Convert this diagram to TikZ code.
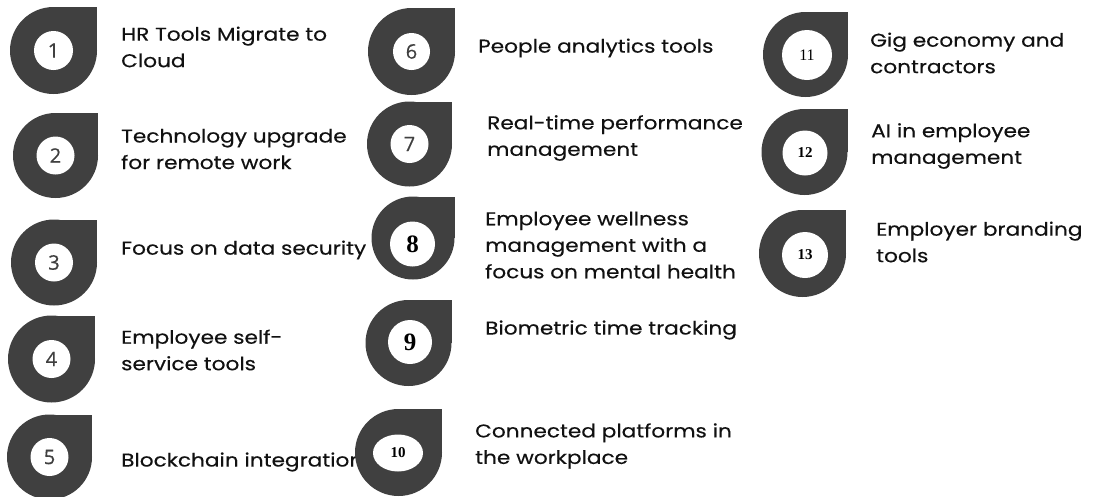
\documentclass[tikz,border=0pt]{standalone}
\usepackage{fontspec}
\usetikzlibrary{shapes.geometric}
\setmainfont{Poppins}[FakeStretch=1.17,FakeBold=0.35]
\newfontfamily\numserif{Liberation Serif}
\newfontfamily\numsans{Open Sans}[FakeBold=0.4]
\definecolor{dropgray}{HTML}{404040}
\definecolor{labelink}{HTML}{111111}
\tikzset{
  dropfill/.style={fill=dropgray},
  hole/.style={circle, fill=white, inner sep=0pt, text=dropgray},
  label/.style={anchor=west, align=left, text=labelink, font=\fontsize{18.5}{26.5}\selectfont, inner sep=0pt},
  sansnum/.style={font=\numsans\fontsize{20}{20}\selectfont, text=dropgray},
  bignum/.style={font=\numserif\bfseries\fontsize{25}{25}\selectfont, text=black},
  smallnum/.style={font=\numserif\bfseries\fontsize{15}{15}\selectfont, text=black},
}
% teardrop marker: #1 name, (#2,#3) centre, #4 outer radius
\newcommand\dropshape[4]{%
  \fill[dropfill] (#2,#3) circle[radius=#4pt];
  \fill[dropfill] (#2,#3) rectangle ++(#4,-#4);
  \coordinate (#1) at (#2,#3);
}
\begin{document}
\begin{tikzpicture}[x=1pt,y=-1pt]
\useasboundingbox (0,0) rectangle (1093,496);

% labels, column one
\node[label] (t1) at (121,47) {HR Tools Migrate to\\Cloud};
\node[label] (t2) at (121,149) {Technology upgrade\\for remote work};
\node[label] (t3) at (121,250) {Focus on data security};
\node[label] (t4) at (121,350) {Employee self-\\service tools};
\node[label] (t5) at (121,462) {Blockchain integration};
% column two
\node[label] (t6) at (478,48) {People analytics tools};
\node[label] (t7) at (487,138) {Real-time performance\\management};
\node[label] (t8) at (485,245) {Employee wellness\\management with a\\focus on mental health};
\node[label] (t9) at (485,330) {Biometric time tracking};
\node[label] (t10) at (475,446) {Connected platforms in\\the workplace};
% column three
\node[label] (t11) at (870,53) {Gig economy and\\contractors};
\node[label] (t12) at (871,146) {AI in employee\\management};
\node[label] (t13) at (876,242) {Employer branding\\tools};

% markers, column one
\dropshape{d1}{53.5}{50.5}{43.5}
\node[hole, minimum size=39pt, sansnum] (n1) at (d1) {1};
\dropshape{d2}{55.5}{155.5}{42.5}
\node[hole, minimum size=38pt, sansnum] (n2) at (d2) {2};
\dropshape{d3}{54}{262.5}{43}
\node[hole, minimum size=38pt, sansnum] (n3) at (d3) {3};
\dropshape{d4}{51.5}{359}{43.5}
\node[hole, minimum size=38pt, sansnum] (n4) at (d4) {4};
\dropshape{d5}{49.5}{457}{42.5}
\node[hole, minimum size=38pt, sansnum] (n5) at (d5) {5};
% column two
\dropshape{d6}{411.5}{51.5}{43.5}
\node[hole, minimum size=37pt, sansnum] (n6) at (d6) {6};
\dropshape{d7}{409.5}{144}{42.5}
\node[hole, minimum size=38pt, sansnum] (n7) at (d7) {7};
\dropshape{d8}{413}{238}{41.5}
\node[hole, minimum size=45pt, bignum] (n8) at (412.5,244) {8};
\dropshape{d9}{408.5}{343}{43}
\node[hole, minimum size=44pt, bignum] (n9) at (410,342) {9};
\dropshape{d10}{398.5}{452.5}{43.5}
\node[hole, ellipse, minimum width=50pt, minimum height=37pt, smallnum] (n10) at (398,453) {10};
% column three
\dropshape{d11}{805.5}{54.5}{42.5}
\node[hole, minimum size=50pt, font=\numserif\fontsize{16}{16}\selectfont, text=black] (n11) at (807,55) {11};
\dropshape{d12}{804.5}{152}{43}
\node[hole, minimum size=45pt, smallnum] (n12) at (805,153) {12};
\dropshape{d13}{802.5}{253.5}{43.5}
\node[hole, minimum size=46pt, smallnum] (n13) at (805,255) {13};
\end{tikzpicture}
\end{document}
